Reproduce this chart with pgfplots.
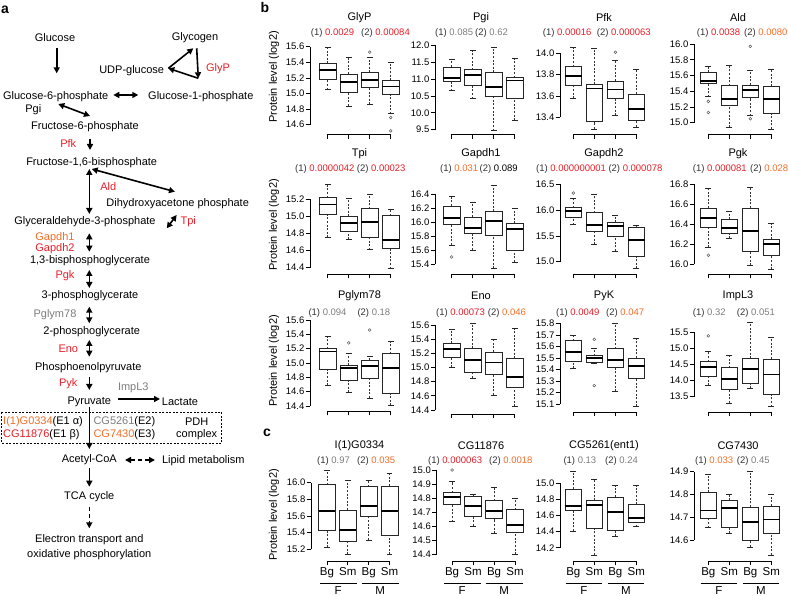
\documentclass[border=0pt]{standalone}
\usepackage{fontspec}
\setmainfont{Liberation Sans}
\usepackage{pgfplots}
\pgfplotsset{compat=1.18}
\usetikzlibrary{arrows.meta}
\definecolor{pred}{RGB}{232,30,40}
\definecolor{porange}{RGB}{240,110,40}
\definecolor{pgray}{RGB}{125,125,125}
\newcommand{\fa}{\fontsize{11}{13}\selectfont}
\newcommand{\ft}{\fontsize{11}{13}\selectfont}
\newcommand{\fp}{\fontsize{9.5}{11}\selectfont}

\pgfplotsset{
 bax/.style={scale only axis, anchor=south west, clip=false,
   axis line style={draw=none},
   tick pos=left, tick align=outside, major tick length=4.5pt,
   tick style={black, line width=0.6pt},
   xmax=4.6, xtick={1,2,3,4}, xticklabels={{},{},{},{}},
   yticklabel style={font=\fp, inner sep=1pt},
   /pgf/number format/fixed, /pgf/number format/fixed zerofill,
   /pgf/number format/precision=1, /pgf/number format/assume math mode=true},
 cax/.style={bax, xticklabels={Bg,Sm,Bg,Sm}, xticklabel style={font=\fontsize{11.5}{13}\selectfont, inner sep=1pt, yshift=-1pt}},
 wl/.style={black!80, line width=0.6pt, dash pattern=on 2pt off 1.6pt, no markers},
 bl/.style={black!85, line width=0.6pt, solid, no markers, line join=miter},
 ml/.style={black, line width=1.8pt, solid, no markers},
 ol/.style={only marks, mark=o, mark size=1.4pt, draw=black!65, mark options={solid, line width=0.5pt}},
}
% box: position, lower whisker, q1, median, q3, upper whisker
\newcommand{\bx}[6]{%
 \pgfmathsetmacro\xl{#1-0.4}\pgfmathsetmacro\xr{#1+0.4}%
 \pgfmathsetmacro\cl{#1-0.14}\pgfmathsetmacro\cR{#1+0.14}%
 \edef\tmp{%
  \noexpand\addplot[wl] coordinates {(#1,#2) (#1,#3)};
  \noexpand\addplot[wl] coordinates {(#1,#5) (#1,#6)};
  \noexpand\addplot[bl] coordinates {(\cl,#2) (\cR,#2)};
  \noexpand\addplot[bl] coordinates {(\cl,#6) (\cR,#6)};
  \noexpand\addplot[bl] coordinates {(\xl,#3) (\xr,#3) (\xr,#5) (\xl,#5)} --cycle;
  \noexpand\addplot[ml] coordinates {(\xl,#4) (\xr,#4)};
 }\tmp}
\newcommand{\out}[2]{\addplot[ol] coordinates {(#1,#2)};}
% axis lines: xmin, ymin, first tick, last tick
\newcommand{\axl}[4]{%
 \draw[line width=0.6pt] (axis cs:#1,#3) -- (axis cs:#1,#4);
 \draw[line width=0.6pt] (axis cs:1,#2) -- (axis cs:4,#2);}

\tikzset{
 lab/.style={font=\fa, inner sep=0pt},
 ttl/.style={font=\ft, inner sep=0pt},
 pv/.style={font=\fp, inner sep=0pt, text=black!80, anchor=west},
 ar/.style={line width=1.6pt, -{Triangle[length=6pt,width=6pt]}},
 dar/.style={line width=1.6pt, {Triangle[length=6pt,width=6pt]}-{Triangle[length=6pt,width=6pt]}},
}

\begin{document}
\begin{tikzpicture}[x=1pt,y=1pt]
\useasboundingbox (0,0) rectangle (788,596);

% ================= panel a =================
\node[font=\fontsize{14}{16}\selectfont\bfseries, inner sep=0pt] at (5,596-10) {a};
\node[lab] at (55,596-37.3) {Glucose};
\node[lab] at (195,596-37.3) {Glycogen};
\node[lab] at (131.7,596-71) {UDP-glucose};
\node[lab, text=pred] at (218,596-68.3) {GlyP};
\node[lab] at (55.7,596-96.7) {Glucose-6-phosphate};
\node[lab] at (200.8,596-96.7) {Glucose-1-phosphate};
\node[lab] at (33.3,596-110) {Pgi};
\node[lab] at (85,596-126.7) {Fructose-6-phosphate};
\node[lab, text=pred] at (68.3,596-144) {Pfk};
\node[lab] at (91.7,596-162.3) {Fructose-1,6-bisphosphate};
\node[lab, text=pred] at (108.3,596-186.7) {Ald};
\node[lab] at (177.7,596-203.3) {Dihydroxyacetone phosphate};
\node[lab] at (85,596-221.7) {Glyceraldehyde-3-phosphate};
\node[lab, text=pred] at (188.3,596-221.7) {Tpi};
\node[lab, text=porange] at (55,596-237.3) {Gapdh1};
\node[lab, text=pred] at (55,596-248.3) {Gapdh2};
\node[lab] at (90,596-260.7) {1,3-bisphosphoglycerate};
\node[lab, text=pred] at (65,596-276) {Pgk};
\node[lab] at (90,596-295.5) {3-phosphoglycerate};
\node[lab, text=pgray] at (55,596-315) {Pglym78};
\node[lab] at (91.7,596-331.7) {2-phosphoglycerate};
\node[lab, text=pred] at (68.3,596-348.3) {Eno};
\node[lab] at (88.3,596-367.3) {Phosphoenolpyruvate};
\node[lab, text=pred] at (68.3,596-383.3) {Pyk};
\node[lab, text=pgray] at (133.3,596-388.3) {ImpL3};
\node[lab] at (89.3,596-401.7) {Pyruvate};
\node[lab] at (180,596-401.7) {Lactate};
\draw[dash pattern=on 2pt off 1.5pt, line width=0.8pt] (1.5,596-412.3) rectangle (221.7,596-443.3);
\node[lab, anchor=west] at (3,596-421.7) {\textcolor{porange}{I(1)G0334}(E1 α)};
\node[lab, anchor=west] at (3,596-434.3) {\textcolor{pred}{CG11876}(E1 β)};
\node[lab, anchor=west] at (93.3,596-421.7) {\textcolor{pgray}{CG5261}(E2)};
\node[lab, anchor=west] at (93.3,596-434.3) {\textcolor{porange}{CG7430}(E3)};
\node[lab] at (196.7,596-421.7) {PDH};
\node[lab] at (196.7,596-434.3) {complex};
\node[lab] at (89.3,596-460) {Acetyl-CoA};
\node[lab] at (203.3,596-460.7) {Lipid metabolism};
\node[lab] at (89.3,596-496.7) {TCA cycle};
\node[lab] at (89.3,596-540) {Electron transport and};
\node[lab] at (89.3,596-555) {oxidative phosphorylation};

\draw[ar] (56.7,596-48.3) -- (56.7,596-73.3);
\draw[ar] (168.3,596-68.3) -- (193.3,596-48.3);
\draw[ar] (196.7,596-48.3) -- (198.3,596-78.3);
\draw[ar] (198.3,596-78.3) -- (168.3,596-68.3);
\draw[dar] (113.3,596-95) -- (138.3,596-95);
\draw[dar] (58.3,596-104) -- (90,596-116);
\draw[ar] (90,596-139.3) -- (90,596-150);
\draw[dar] (89.3,596-169) -- (89.3,596-214);
\draw[dar] (91.7,596-169) -- (175,596-191.7);
\draw[dar] (166.7,596-228.3) -- (176.7,596-215);
\draw[dar] (89.3,596-233.3) -- (89.3,596-251.7);
\draw[dar] (89.3,596-270) -- (89.3,596-288);
\draw[dar] (89.3,596-306.7) -- (89.3,596-323.3);
\draw[dar] (89.3,596-340) -- (89.3,596-356.7);
\draw[ar] (89.3,596-377.3) -- (89.3,596-390);
\draw[ar] (118.3,596-399) -- (160,596-399);
\draw[ar] (89.3,596-407) -- (89.3,596-449);
\draw[dar, dash pattern=on 4pt off 3pt] (125,596-460) -- (155,596-460);
\draw[ar] (89.3,596-468.3) -- (89.3,596-486.7);
\draw[ar, dash pattern=on 4pt off 3pt] (89.3,596-506.7) -- (89.3,596-528.3);

% ================= panel b/c labels =================
\node[font=\fontsize{14}{16}\selectfont\bfseries, inner sep=0pt] at (265,596-8) {b};
\node[font=\fontsize{14}{16}\selectfont\bfseries, inner sep=0pt] at (267,596-433) {c};
\foreach \yy in {77,225,361,515} {\node[ttl, rotate=90] at (274,596-\yy) {Protein level (log2)};}

% ---- row 1
\begin{axis}[bax, at={(310pt,461.5pt)}, width=93.3pt, height=94.5pt, xmin=0.157, ymin=14.474, ymax=15.686, ytick={14.6,14.8,15.0,15.2,15.4,15.6}]
\axl{0.157}{14.474}{14.6}{15.6}
\bx{1}{15.05}{15.18}{15.30}{15.385}{15.59}
\bx{2}{14.84}{15.02}{15.15}{15.25}{15.46}
\bx{3}{14.86}{15.08}{15.17}{15.27}{15.47}\out{3}{15.53}
\bx{4}{14.74}{14.99}{15.09}{15.17}{15.40}\out{4}{14.69}\out{4}{14.52}
\end{axis}
\begin{axis}[bax, at={(435pt,461.5pt)}, width=92.3pt, height=94.5pt, xmin=0.205, ymin=9.358, ymax=12.148, ytick={9.5,10.0,10.5,11.0,11.5,12.0}]
\axl{0.205}{9.358}{9.5}{12.0}
\bx{1}{10.65}{10.92}{11.02}{11.35}{11.58}
\bx{2}{10.42}{10.82}{11.11}{11.27}{11.85}
\bx{3}{9.47}{10.49}{10.75}{11.19}{11.92}
\bx{4}{9.78}{10.44}{10.95}{11.04}{11.61}
\end{axis}
\begin{axis}[bax, at={(560pt,461.5pt)}, width=88.9pt, height=94.5pt, xmin=0.367, ymin=13.239, ymax=14.125, ytick={13.4,13.6,13.8,14.0}]
\axl{0.367}{13.239}{13.4}{14.0}
\bx{1}{13.58}{13.70}{13.79}{13.875}{14.06}
\bx{2}{13.29}{13.36}{13.67}{13.71}{14.05}
\bx{3}{13.42}{13.58}{13.66}{13.74}{13.93}\out{3}{14.01}
\bx{4}{13.31}{13.375}{13.48}{13.62}{13.85}
\end{axis}
\begin{axis}[bax, at={(694pt,461.5pt)}, width=89.9pt, height=94.5pt, xmin=0.319, ymin=14.850, ymax=16.051, ytick={15.0,15.2,15.4,15.6,15.8,16.0}]
\axl{0.319}{14.850}{15.0}{16.0}
\bx{1}{15.33}{15.50}{15.53}{15.64}{15.72}\out{1}{15.27}\out{1}{15.13}
\bx{2}{14.94}{15.22}{15.30}{15.47}{15.73}
\bx{3}{15.09}{15.32}{15.42}{15.48}{15.66}\out{3}{15.97}\out{3}{15.05}
\bx{4}{14.92}{15.12}{15.30}{15.46}{15.68}
\end{axis}

% ---- row 2
\begin{axis}[bax, at={(310pt,322pt)}, width=93.3pt, height=94pt, xmin=0.157, ymin=14.326, ymax=15.426, ytick={14.4,14.6,14.8,15.0,15.2}]
\axl{0.157}{14.326}{14.4}{15.2}
\bx{1}{14.755}{15.03}{15.14}{15.22}{15.37}
\bx{2}{14.73}{14.83}{14.92}{15.00}{15.21}
\bx{3}{14.61}{14.76}{14.93}{15.09}{15.26}
\bx{4}{14.39}{14.63}{14.72}{15.01}{15.08}
\end{axis}
\begin{axis}[bax, at={(435pt,322pt)}, width=92.3pt, height=94pt, xmin=0.205, ymin=15.257, ymax=16.600, ytick={15.4,15.6,15.8,16.0,16.2,16.4}]
\axl{0.205}{15.257}{15.4}{16.4}
\bx{1}{15.67}{15.97}{16.06}{16.23}{16.36}\out{1}{15.50}
\bx{2}{15.60}{15.84}{15.91}{16.07}{16.28}
\bx{3}{15.34}{15.81}{16.01}{16.15}{16.53}
\bx{4}{15.43}{15.60}{15.90}{15.98}{16.20}
\end{axis}
\begin{axis}[bax, at={(560pt,322pt)}, width=88.9pt, height=94pt, xmin=0.367, ymin=14.762, ymax=16.583, ytick={15.0,15.5,16.0,16.5}]
\axl{0.367}{14.762}{15.0}{16.5}
\bx{1}{15.72}{15.86}{15.99}{16.05}{16.23}\out{1}{16.33}
\bx{2}{15.34}{15.59}{15.71}{15.95}{16.31}
\bx{3}{15.21}{15.50}{15.69}{15.76}{15.89}
\bx{4}{14.87}{15.11}{15.42}{15.66}{15.70}
\end{axis}
\begin{axis}[bax, at={(694pt,322pt)}, width=89.9pt, height=94pt, xmin=0.319, ymin=15.903, ymax=16.840, ytick={16.0,16.2,16.4,16.6,16.8}]
\axl{0.319}{15.903}{16.0}{16.8}
\bx{1}{16.17}{16.37}{16.46}{16.56}{16.76}\out{1}{16.09}
\bx{2}{16.26}{16.31}{16.36}{16.45}{16.53}
\bx{3}{15.99}{16.13}{16.33}{16.56}{16.77}
\bx{4}{15.95}{16.09}{16.20}{16.25}{16.41}
\end{axis}

% ---- row 3
\begin{axis}[bax, at={(310pt,185pt)}, width=93.3pt, height=93pt, xmin=0.157, ymin=14.330, ymax=15.628, ytick={14.4,14.6,14.8,15.0,15.2,15.4,15.6}]
\axl{0.157}{14.330}{14.4}{15.6}
\bx{1}{14.69}{14.91}{15.16}{15.20}{15.37}
\bx{2}{14.59}{14.76}{14.93}{14.97}{15.14}\out{2}{15.28}
\bx{3}{14.51}{14.79}{14.96}{15.04}{15.10}\out{3}{15.46}
\bx{4}{14.41}{14.57}{14.93}{15.13}{15.30}
\end{axis}
\begin{axis}[bax, at={(435pt,182pt)}, width=92.3pt, height=96pt, xmin=0.205, ymin=14.343, ymax=15.699, ytick={14.4,14.6,14.8,15.0,15.2,15.4,15.6}]
\axl{0.205}{14.343}{14.4}{15.6}
\bx{1}{15.00}{15.15}{15.26}{15.34}{15.54}
\bx{2}{14.85}{14.93}{15.11}{15.27}{15.63}
\bx{3}{14.61}{14.90}{15.07}{15.22}{15.40}
\bx{4}{14.45}{14.72}{14.86}{15.13}{15.55}
\end{axis}
\begin{axis}[bax, at={(560pt,184pt)}, width=88.9pt, height=94pt, xmin=0.367, ymin=15.031, ymax=15.846, ytick={15.1,15.2,15.3,15.4,15.5,15.6,15.7,15.8}]
\axl{0.367}{15.031}{15.1}{15.8}
\bx{1}{15.41}{15.47}{15.55}{15.65}{15.70}
\bx{2}{15.45}{15.46}{15.50}{15.52}{15.58}\out{2}{15.66}\out{2}{15.26}
\bx{3}{15.21}{15.42}{15.48}{15.58}{15.80}
\bx{4}{15.08}{15.32}{15.43}{15.50}{15.67}
\end{axis}
\begin{axis}[bax, at={(694pt,184pt)}, width=89.9pt, height=94pt, xmin=0.319, ymin=13.025, ymax=15.944, ytick={13.5,14.0,14.5,15.0,15.5}]
\axl{0.319}{13.025}{13.5}{15.5}
\bx{1}{13.86}{14.12}{14.43}{14.59}{14.92}\out{1}{15.39}
\bx{2}{13.31}{13.73}{14.04}{14.40}{14.80}
\bx{3}{13.76}{13.91}{14.35}{14.69}{15.80}
\bx{4}{13.19}{13.57}{14.19}{14.67}{15.33}
\end{axis}

% ---- row c
\begin{axis}[cax, at={(311pt,35pt)}, width=91pt, height=95pt, xmin=0.238, ymin=15.059, ymax=16.201, ytick={15.2,15.4,15.6,15.8,16.0}]
\axl{0.238}{15.059}{15.2}{16.0}
\bx{1}{15.224}{15.428}{15.664}{15.976}{16.144}
\bx{2}{15.14}{15.30}{15.436}{15.672}{16.028}
\bx{3}{15.312}{15.60}{15.72}{15.952}{16.024}
\bx{4}{15.14}{15.368}{15.66}{15.96}{16.116}
\end{axis}
\begin{axis}[cax, at={(436.5pt,35pt)}, width=91.2pt, height=95pt, xmin=0.257, ymin=14.352, ymax=15.028, ytick={14.4,14.5,14.6,14.7,14.8,14.9,15.0}]
\axl{0.257}{14.352}{14.4}{15.0}
\bx{1}{14.633}{14.756}{14.806}{14.839}{14.917}\out{1}{15.0}
\bx{2}{14.602}{14.671}{14.744}{14.813}{14.83}
\bx{3}{14.55}{14.654}{14.709}{14.782}{14.874}
\bx{4}{14.40}{14.557}{14.609}{14.718}{14.80}
\end{axis}
\begin{axis}[cax, at={(560pt,35pt)}, width=88.9pt, height=95pt, xmin=0.367, ymin=14.035, ymax=15.215, ytick={14.2,14.4,14.6,14.8,15.0}]
\axl{0.367}{14.035}{14.2}{15.0}
\bx{1}{14.41}{14.66}{14.72}{14.93}{15.15}
\bx{2}{14.11}{14.44}{14.73}{14.79}{15.05}
\bx{3}{14.34}{14.42}{14.64}{14.83}{14.97}
\bx{4}{14.46}{14.52}{14.565}{14.74}{14.97}
\end{axis}
\begin{axis}[cax, at={(694pt,35pt)}, width=89.9pt, height=95pt, xmin=0.319, ymin=14.508, ymax=14.925, ytick={14.6,14.7,14.8,14.9}]
\axl{0.319}{14.508}{14.6}{14.9}
\bx{1}{14.655}{14.695}{14.73}{14.81}{14.89}
\bx{2}{14.63}{14.655}{14.74}{14.775}{14.80}
\bx{3}{14.57}{14.60}{14.68}{14.745}{14.90}
\bx{4}{14.535}{14.63}{14.69}{14.75}{14.80}
\end{axis}

% F / M group labels
\foreach \c in {327.7,451.7,573.3,708.3} {
  \draw[line width=1.1pt] (\c-7.8,596-583.5) -- (\c+28.8,596-583.5);
  \draw[line width=1.1pt] (\c+34.2,596-583.5) -- (\c+70.8,596-583.5);
  \node[font=\fontsize{11.5}{13}\selectfont, inner sep=0pt] at (\c+10.5,596-590.5) {F};
  \node[font=\fontsize{11.5}{13}\selectfont, inner sep=0pt] at (\c+52.5,596-590.5) {M};
}

% titles
\node[ttl] at (359.5,596-18) {GlyP};
\node[ttl] at (481,596-18) {Pgi};
\node[ttl] at (604,596-18) {Pfk};
\node[ttl] at (738,596-18) {Ald};
\node[ttl] at (359.5,596-153.3) {Tpi};
\node[ttl] at (481,596-153.3) {Gapdh1};
\node[ttl] at (604,596-153.3) {Gapdh2};
\node[ttl] at (738,596-153.3) {Pgk};
\node[ttl] at (359.5,596-296) {Pglym78};
\node[ttl] at (481,596-296) {Eno};
\node[ttl] at (604,596-296) {PyK};
\node[ttl] at (738,596-296) {ImpL3};
\node[ttl] at (359.5,596-446) {I(1)G0334};
\node[ttl] at (481,596-446) {CG11876};
\node[ttl] at (604,596-446) {CG5261(ent1)};
\node[ttl] at (738,596-446) {CG7430};

% p-values
\node[pv] at (310.7,596-33) {(1) \textcolor{pred}{0.0029}};
\node[pv] at (361,596-33) {(2) \textcolor{pred}{0.00084}};
\node[pv] at (435,596-33) {(1) \textcolor{pgray}{0.085}};
\node[pv] at (475,596-33) {(2) \textcolor{pgray}{0.62}};
\node[pv] at (542.7,596-33) {(1) \textcolor{pred}{0.00016}};
\node[pv] at (596.7,596-33) {(2) \textcolor{pred}{0.000063}};
\node[pv] at (696.7,596-33) {(1) \textcolor{pred}{0.0038}};
\node[pv] at (744,596-33) {(2) \textcolor{porange}{0.0080}};

\node[pv] at (295,596-169.3) {(1) \textcolor{pred}{0.0000042}};
\node[pv] at (356.7,596-169.3) {(2) \textcolor{pred}{0.00023}};
\node[pv] at (440,596-169.3) {(1) \textcolor{porange}{0.031}};
\node[pv] at (479.5,596-169.3) {(2) \textcolor{black}{0.089}};
\node[pv] at (536,596-169.3) {(1) \textcolor{pred}{0.000000001}};
\node[pv] at (608.3,596-169.3) {(2) \textcolor{pred}{0.000078}};
\node[pv] at (692.7,596-169.3) {(1) \textcolor{pred}{0.000081}};
\node[pv] at (750,596-169.3) {(2) \textcolor{porange}{0.028}};

\node[pv] at (308.3,596-312.7) {(1) \textcolor{pgray}{0.094}};
\node[pv] at (357.3,596-312.7) {(2) \textcolor{pgray}{0.18}};
\node[pv] at (436,596-312.7) {(1) \textcolor{pred}{0.00073}};
\node[pv] at (487.7,596-312.7) {(2) \textcolor{porange}{0.046}};
\node[pv] at (556,596-312.7) {(1) \textcolor{pred}{0.0049}};
\node[pv] at (606,596-312.7) {(2) \textcolor{porange}{0.047}};
\node[pv] at (692.7,596-312.7) {(1) \textcolor{pgray}{0.32}};
\node[pv] at (736.7,596-312.7) {(2) \textcolor{pgray}{0.051}};

\node[pv] at (317,596-461) {(1) \textcolor{pgray}{0.97}};
\node[pv] at (357,596-461) {(2) \textcolor{porange}{0.035}};
\node[pv] at (428,596-461) {(1) \textcolor{pred}{0.000063}};
\node[pv] at (489,596-461) {(2) \textcolor{porange}{0.0018}};
\node[pv] at (563.3,596-461) {(1) \textcolor{pgray}{0.13}};
\node[pv] at (605,596-461) {(2) \textcolor{pgray}{0.24}};
\node[pv] at (695,596-461) {(1) \textcolor{porange}{0.033}};
\node[pv] at (736.7,596-461) {(2) \textcolor{pgray}{0.45}};

\end{tikzpicture}
\end{document}
